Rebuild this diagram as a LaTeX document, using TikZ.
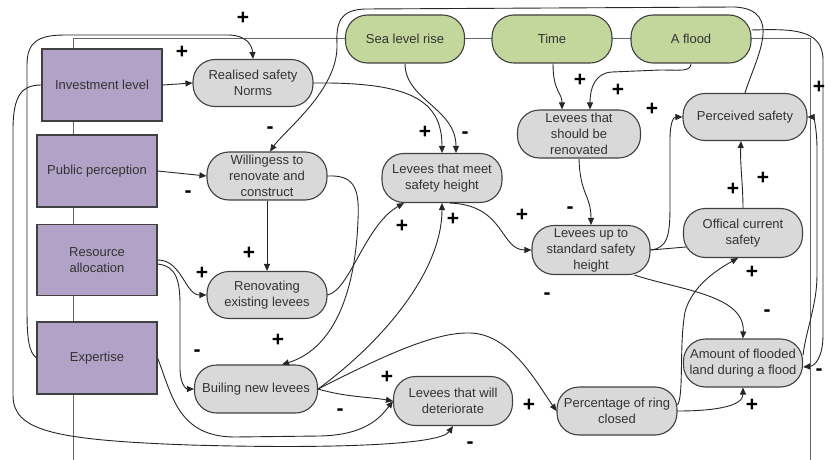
\documentclass[tikz,border=0pt]{standalone}
\usepackage{fontspec}
\setmainfont{Liberation Sans}
\usetikzlibrary{arrows.meta}
\definecolor{purp}{HTML}{B3A2C7}
\definecolor{grn}{HTML}{C3D69B}
\definecolor{gry}{HTML}{D9D9D9}
\definecolor{edgec}{HTML}{404040}
\definecolor{txtc}{HTML}{333333}
\tikzset{
 pbox/.style={draw=edgec, line width=1.2pt, fill=purp, minimum width=120pt, minimum height=72pt, inner sep=0pt, align=center, text=txtc},
 gpill/.style={draw=edgec, line width=1.1pt, fill=grn, rounded corners=22pt, minimum width=120pt, minimum height=48pt, inner sep=0pt, align=center, text=txtc},
 npill/.style={draw=edgec, line width=1.1pt, fill=gry, rounded corners=22pt, minimum width=120pt, minimum height=48pt, inner sep=0pt, align=center, text=txtc},
 arr/.style={draw=black!85, line width=0.9pt, -{Triangle[length=7pt,width=6pt]}},
 conn/.style={draw=black!85, line width=0.9pt},
 frameline/.style={draw=black!60, line width=1pt},
 sgn/.style={font=\fontsize{21}{21}\selectfont\bfseries, inner sep=0pt, text height=0.62em, text depth=0pt},
}
\begin{document}
\begin{tikzpicture}[x=1pt, y=-1pt, font=\fontsize{13}{16}\selectfont]
\useasboundingbox (0,0) rectangle (825,460);
% frame line
\coordinate (fr1) at (73,460);
\coordinate (fr2) at (73,39);
\coordinate (fr3) at (810,39);
\coordinate (fr4) at (810,460);
\draw[frameline] (fr1) -- (fr2) -- (fr3) -- (fr4);
% purple boxes
\node[pbox] (inv) at (102,85) {Investment level};
\node[pbox] (pub) at (97,171) {Public perception};
\node[pbox, minimum height=71pt] (res) at (97,260) {Resource\\allocation};
\node[pbox] (exp) at (97,358) {Expertise};
% green
\node[gpill, minimum width=119pt] (slr) at (405,39) {Sea level rise};
\node[gpill] (tm) at (552,39) {Time};
\node[gpill] (fl) at (691,39) {A flood};
% gray
\node[npill, minimum height=47pt] (rsn) at (253,83) {Realised safety\\Norms};
\node[npill] (will) at (267,176) {Willingess to\\renovate and\\construct};
\node[npill, minimum height=49pt] (ltms) at (442,178) {Levees that meet\\safety height};
\node[npill, minimum width=123pt] (lsr) at (579,134) {Levees that\\should be\\renovated};
\node[npill, minimum width=124pt, minimum height=47pt] (ps) at (745,117) {Perceived safety};
\node[npill, minimum width=119pt, minimum height=49pt] (ocs) at (743,233) {Offical current\\safety};
\node[npill, minimum width=118pt, minimum height=49pt] (lus) at (591,250) {Levees up to\\standard safety\\height};
\node[npill, minimum height=47pt] (ren) at (267,295) {Renovating\\existing levees};
\node[npill, minimum width=123pt] (bnl) at (256,389) {Builing new levees};
\node[npill, minimum width=119pt, minimum height=49pt] (ltwd) at (453,401) {Levees that will\\deteriorate};
\node[npill] (prc) at (617,411) {Percentage of ring\\closed};
\node[npill, minimum width=119pt] (afl) at (743,363) {Amount of flooded\\land during a flood};
% connectors
\draw[arr] (inv.east) -- (rsn.west);
\draw[arr] (exp.west) .. controls (29,352) and (27,340) .. (27,310) -- (27,65) .. controls (27,42) and (38,35) .. (65,35) -- (228,35) .. controls (245,35) and (252,44) .. (rsn.north);
\draw[arr] (inv.west) .. controls (22,85) and (13,95) .. (13,130) -- (13,395) .. controls (13,430) and (50,440) .. (190,445) .. controls (330,449) and (440,445) .. (ltwd.south);
\draw[arr] (exp.east) .. controls (172,395) and (178,437) .. (235,437) -- (320,436) .. controls (365,435) and (380,418) .. (ltwd.west);
\draw[arr] (pub.east) -- (will.west);
\draw[arr] (res.east) .. controls (182,260) and (185,295) .. (ren.west);
\draw[arr] ([yshift=-4pt]res.east) .. controls (176,266) and (180,280) .. (180,305) -- (180,368) .. controls (180,384) and (186,389) .. (bnl.west);
\draw[arr] (will.south) -- (ren.north);
\draw[arr] (will.east) .. controls (352,175) and (360,185) .. (358,220) .. controls (355,300) and (330,350) .. ([xshift=26pt]bnl.north);
\draw[arr] (ren.east) .. controls (350,290) and (365,225) .. ([xshift=-38pt]ltms.south);
\draw[arr] (bnl.east) .. controls (385,340) and (442,270) .. (ltms.south);
\draw[arr] (bnl.east) .. controls (345,397) and (370,397) .. (ltwd.west);
\draw[arr] (bnl.east) .. controls (385,355) and (435,332) .. (470,333) .. controls (510,334) and (535,380) .. (prc.west);
\draw[arr] (rsn.east) .. controls (410,82) and (442,100) .. (ltms.north);
\draw[arr] (slr.south) .. controls (405,100) and (456,108) .. ([xshift=14pt]ltms.north);
\draw[arr] (ps.north) .. controls (755,60) and (785,10) .. (735,7) -- (365,9) .. controls (340,10) and (336,22) .. (337,45) .. controls (338,90) and (285,130) .. ([xshift=3pt]will.north);
\draw[arr] (fl.south) .. controls (691,72) and (680,70) .. (660,70) -- (612,72) .. controls (595,73) and (590,88) .. ([xshift=11pt]lsr.north);
\draw[arr] ([xshift=1pt]tm.south) .. controls (553,92) and (562,92) .. ([xshift=-17pt]lsr.north);
\draw[arr] (lsr.south) .. controls (580,195) and (591,195) .. (lus.north);
\draw[arr] ([xshift=8pt]ltms.south) .. controls (505,205) and (500,250) .. (lus.west);
\draw[arr] (lus.east) .. controls (668,248) and (670,235) .. (670,205) -- (670,140) .. controls (670,124) and (673,117) .. (ps.west);
\draw[conn] (lus.east) -- ([shift={(3pt,-14pt)}]ocs.west);
\draw[arr] (ocs.north) .. controls (743,185) and (740,165) .. ([xshift=-4pt]ps.south);
\draw[arr] (lus.-30) .. controls (680,290) and (745,295) .. (afl.north);
\draw[arr] (prc.east) .. controls (720,411) and (743,405) .. (afl.south);
\draw[arr] ([yshift=6pt]prc.east) .. controls (684,395) and (679,345) .. (685,312) .. controls (692,285) and (720,268) .. ([xshift=-5pt]ocs.south);
\draw[arr] ([yshift=9pt]fl.east) .. controls (790,29) and (823,28) .. (823,60) -- (823,335) .. controls (823,357) and (815,366) .. ([yshift=-4pt]afl.east);
\draw[arr] ([yshift=8pt]afl.east) .. controls (806,330) and (817,305) .. (817,275) -- (817,150) .. controls (817,126) and (813,117) .. (ps.east);
% signs
\node[sgn] (s1) at (243,21) {+};
\node[sgn] (s2) at (182,55) {+};
\node[sgn] (s3) at (270,130) {-};
\node[sgn] (s4) at (188,194) {-};
\node[sgn] (s5) at (425,135) {+};
\node[sgn] (s6) at (465,135) {-};
\node[sgn] (s7) at (580,83) {+};
\node[sgn] (s8) at (618,93) {+};
\node[sgn] (s9) at (652,112) {+};
\node[sgn] (s10) at (819,90) {+};
\node[sgn] (s11) at (402,229) {+};
\node[sgn] (s12) at (453,222) {+};
\node[sgn] (s13) at (522,218) {+};
\node[sgn] (s14) at (570,210) {-};
\node[sgn] (s15) at (733,192) {+};
\node[sgn] (s16) at (763,181) {+};
\node[sgn] (s17) at (249,256) {+};
\node[sgn] (s18) at (202,276) {+};
\node[sgn] (s19) at (752,275) {+};
\node[sgn] (s20) at (278,343) {+};
\node[sgn] (s21) at (197,353) {-};
\node[sgn] (s22) at (547,296) {-};
\node[sgn] (s23) at (767,313) {-};
\node[sgn] (s24) at (387,380) {+};
\node[sgn] (s25) at (340,412) {-};
\node[sgn] (s26) at (529,408) {+};
\node[sgn] (s27) at (470,445) {-};
\node[sgn] (s28) at (752,408) {+};
\node[sgn] (s29) at (819,372) {-};
\end{tikzpicture}
\end{document}
